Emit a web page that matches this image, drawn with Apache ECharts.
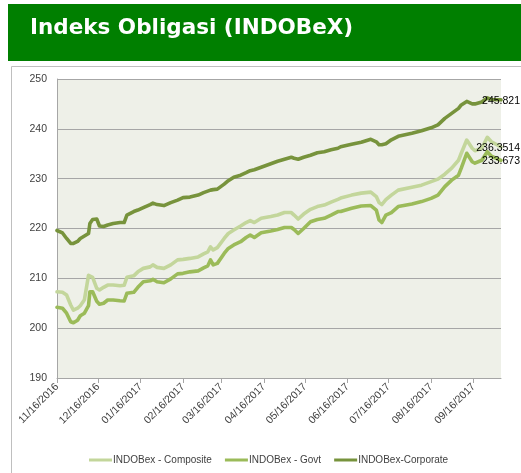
<!DOCTYPE html>
<html>
<head>
<meta charset="utf-8">
<script src="https://cdn.jsdelivr.net/npm/echarts@6/dist/echarts.min.js"></script>
<style>
html,body{margin:0;padding:0;background:#fff;}
#c{width:521px;height:473px;}
</style>
</head>
<body>
<div id="c"></div>
<script>
const title = 'Indeks Obligasi (INDOBeX)';
const seriesNames = ['INDOBex - Composite', 'INDOBex - Govt', 'INDOBex-Corporate'];
const endLabels = ['236.3514', '233.673', '245.821'];
const yTicks = [190, 200, 210, 220, 230, 240, 250];
const tickDates = ['2016-11-16','2016-12-16','2017-01-16','2017-02-16','2017-03-16','2017-04-16',
  '2017-05-16','2017-06-16','2017-07-16','2017-08-16','2017-09-16'];

const dates = [
'2016-11-16','2016-11-20','2016-11-23','2016-11-26','2016-11-28','2016-12-01','2016-12-03','2016-12-06',
'2016-12-09','2016-12-10','2016-12-12','2016-12-15','2016-12-17','2016-12-20','2016-12-23','2016-12-27',
'2017-01-01','2017-01-04','2017-01-06','2017-01-11','2017-01-14','2017-01-18','2017-01-23','2017-01-25',
'2017-01-28','2017-02-02','2017-02-07','2017-02-12','2017-02-16','2017-02-21','2017-02-27','2017-03-03',
'2017-03-06','2017-03-08','2017-03-10','2017-03-13','2017-03-18','2017-03-21','2017-03-25','2017-03-30',
'2017-04-03','2017-04-06','2017-04-09','2017-04-14','2017-04-21','2017-04-26','2017-05-01','2017-05-06',
'2017-05-08','2017-05-11','2017-05-15','2017-05-20','2017-05-25','2017-05-30','2017-06-04','2017-06-09',
'2017-06-11','2017-06-19','2017-06-26','2017-07-03','2017-07-07','2017-07-09','2017-07-11','2017-07-14',
'2017-07-18','2017-07-23','2017-08-02','2017-08-09','2017-08-16','2017-08-21','2017-08-26','2017-08-31',
'2017-09-05','2017-09-07','2017-09-11','2017-09-15','2017-09-17','2017-09-22','2017-09-26','2017-09-29',
'2017-10-06'];

const composite = [
207.3,207.2,206.65,204.65,203.6,204.0,204.5,205.7,
210.6,210.5,210.2,208.0,207.65,208.2,208.65,208.65,
208.5,208.6,210.2,210.5,211.3,212.0,212.3,212.7,
212.2,212.0,212.7,213.7,213.8,214.0,214.3,214.9,
215.3,216.3,215.7,216.15,218.0,219.0,219.7,220.5,
221.2,221.6,221.2,222.05,222.4,222.7,223.2,223.2,
222.7,221.9,222.9,223.85,224.4,224.7,225.3,225.85,
226.1,226.7,227.1,227.3,226.4,225.2,224.8,225.8,
226.7,227.7,228.3,228.7,229.4,229.9,230.9,232.1,
233.7,235.1,237.75,236.1,235.6,236.1,238.3,237.4,
236.3514];

const govt = [
204.2,204.0,203.0,201.3,201.1,201.6,202.5,203.0,
204.5,207.3,207.3,205.4,204.8,205.0,205.65,205.65,
205.5,205.45,207.0,207.2,208.2,209.3,209.5,209.8,
209.3,209.1,209.9,210.9,211.0,211.3,211.5,212.1,
212.5,213.7,212.7,213.0,215.0,216.0,216.7,217.35,
218.2,218.7,218.2,219.15,219.5,219.8,220.2,220.2,
219.8,219.0,220.0,221.35,221.8,222.05,222.7,223.4,
223.4,224.05,224.5,224.6,223.7,221.7,221.2,222.7,
223.2,224.4,224.9,225.4,226.05,226.7,228.4,229.7,
230.7,232.1,235.1,233.4,233.1,233.7,235.4,234.5,
233.673];

const corporate = [
219.6,219.1,218.0,217.0,217.0,217.4,218.0,218.5,
219.0,221.0,221.8,221.9,220.5,220.4,220.7,221.0,
221.2,221.2,222.7,223.4,223.7,224.2,224.8,225.1,
224.8,224.6,225.2,225.7,226.2,226.3,226.7,227.2,
227.5,227.7,227.8,227.9,228.9,229.6,230.3,230.7,
231.2,231.6,231.8,232.3,233.0,233.5,233.9,234.3,
234.1,233.9,234.3,234.7,235.2,235.4,235.8,236.1,
236.4,236.9,237.3,237.9,237.4,236.8,236.8,237.0,
237.8,238.5,239.1,239.6,240.2,240.8,242.1,243.1,
244.1,244.8,245.5,245.0,245.0,245.4,246.2,245.9,
245.821];

const colors = ['#c3d69b', '#9bbb59', '#77933c'];
const valuesList = [composite, govt, corporate];

function parseD(s){ const p = s.split('-').map(Number); return new Date(p[0], p[1]-1, p[2]).getTime(); }
function pad(n){ return (n < 10 ? '0' : '') + n; }
function fmt(v){ const d = new Date(v); return pad(d.getMonth()+1) + '/' + pad(d.getDate()) + '/' + d.getFullYear(); }

const tickVals = tickDates.map(parseD);
const FONT = "'Liberation Sans', Arial, sans-serif";

const chart = echarts.init(document.getElementById('c'), null, {renderer: 'canvas'});
const series = valuesList.map((vals, i) => ({
  name: seriesNames[i],
  type: 'line',
  data: dates.map((d, j) => [parseD(d), vals[j]]),
  showSymbol: false,
  symbol: 'none',
  lineStyle: { color: colors[i], width: 3.6, cap: 'round', join: 'round' },
  itemStyle: { color: colors[i] },
  animation: false,
  z: 3 + i,
  endLabel: {
    show: true,
    formatter: () => endLabels[i],
    color: '#000',
    fontFamily: FONT,
    fontSize: 10.5,
    align: 'right',
    distance: 19,
    offset: [0, 1]
  }
}));

chart.setOption({
  animation: false,
  backgroundColor: '#ffffff',
  title: {
    text: title,
    left: 25, top: 12,
    textStyle: { color: '#ffffff', fontFamily: "'DejaVu Sans', Verdana, sans-serif", fontWeight: 'bold', fontSize: 21.5 }
  },
  graphic: [
    { type: 'rect', left: 8, top: 4, z: -10, shape: { width: 513, height: 57 }, style: { fill: '#007f00' } },
    { type: 'rect', left: 9, top: 64, z: -10, shape: { width: 510, height: 420 }, style: { fill: 'none', stroke: '#bfbfbf', lineWidth: 1 } }
  ],
  grid: { left: 57, right: 20, top: 79, bottom: 95, show: true, backgroundColor: '#eef0e8', borderWidth: 0 },
  xAxis: {
    type: 'value',
    min: parseD('2016-11-16'),
    max: parseD('2017-10-06'),
    axisLine: { show: true, onZero: false, lineStyle: { color: '#a6a6a6', width: 1 } },
    axisTick: { show: true, customValues: tickVals, length: 5, lineStyle: { color: '#a6a6a6' } },
    axisLabel: { customValues: tickVals, rotate: 45, formatter: fmt, color: '#404040', fontFamily: FONT, fontSize: 10.5, margin: 7, hideOverlap: false, showMinLabel: true, showMaxLabel: true },
    splitLine: { show: false }
  },
  yAxis: {
    type: 'value',
    min: yTicks[0], max: yTicks[yTicks.length-1], interval: 10,
    axisLine: { show: true, lineStyle: { color: '#a6a6a6' } },
    axisTick: { show: false },
    axisLabel: { color: '#404040', fontFamily: FONT, fontSize: 10.5, margin: 10 },
    splitLine: { show: true, lineStyle: { color: '#a6a6a6', width: 1 } }
  },
  legend: {
    data: seriesNames,
    left: 84, top: 450,
    icon: 'rect',
    itemWidth: 23, itemHeight: 3,
    itemGap: 13,
    textStyle: { color: '#404040', fontFamily: FONT, fontSize: 10, padding: [0,0,0,-4] }
  },
  series: series
});
</script>
</body>
</html>
